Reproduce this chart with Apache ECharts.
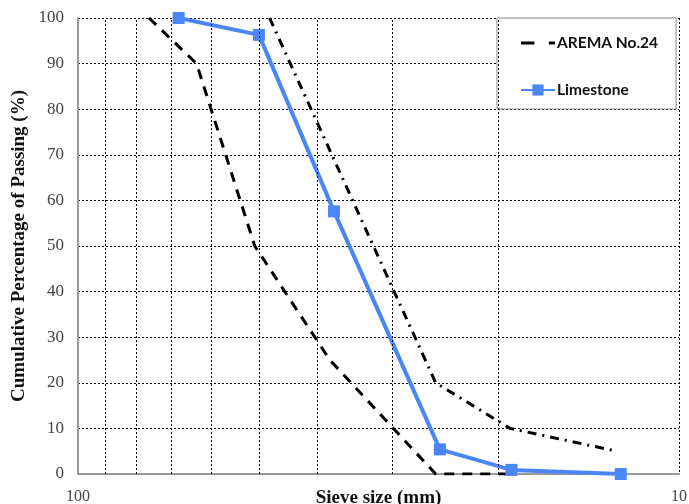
<!DOCTYPE html>
<html>
<head>
<meta charset="utf-8">
<script src="https://cdn.jsdelivr.net/npm/echarts@6/dist/echarts.min.js"></script>
<style>html,body{margin:0;padding:0;background:#fff}#c{width:689px;height:504px}</style>
</head>
<body>
<div id="c"></div>
<script>
// Sieve sizes (mm) and cumulative % passing
var aremaLowerSize = [76.2, 63.5, 50.8, 38.1, 25.4, 19];
var aremaLowerPass = [100, 90, 50, 25, 0, 0];
var aremaUpperSize = [48, 25.4, 19.1, 12.7];
var aremaUpperPass = [100, 20, 10, 5];
var limestoneSize = [68, 50, 37.5, 25, 19, 12.5];
var limestonePass = [100, 96.3, 57.6, 5.4, 0.9, 0];
var xGridValues = [20, 30, 40, 50, 60, 70, 80, 90];
var xTickLabels = [10, 100];
var yTicks = [0, 10, 20, 30, 40, 50, 60, 70, 80, 90, 100];

function zip(a, b) { return a.map(function (v, i) { return [v, b[i]]; }); }

var serif = '"Liberation Serif", "Times New Roman", serif';
var chart = echarts.init(document.getElementById('c'));
chart.setOption({
  animation: false,
  backgroundColor: '#fff',
  grid: { left: 78, right: 10, top: 18, bottom: 30, containLabel: false, outerBoundsMode: 'none' },
  legend: {
    data: [
      { name: 'AREMA No.24', icon: 'path://M0,0H13V3H0Z M27,0H33V3H27Z', itemStyle: { color: '#000', borderWidth: 0 } },
      { name: 'Limestone' }
    ],
    orient: 'vertical',
    left: 497, top: 18,
    backgroundColor: '#fff',
    borderColor: '#888', borderWidth: 1,
    padding: [17, 18, 11, 23],
    itemWidth: 34, itemHeight: 14, itemGap: 31,
    textStyle: { fontFamily: 'Lato, "Open Sans", sans-serif', fontWeight: 'bold', fontSize: 15.5, color: '#111', padding: [0, 0, 0, -3] }
  },
  xAxis: {
    type: 'log', logBase: 10, min: 10, max: 100, inverse: true,
    name: 'Sieve size (mm)', nameLocation: 'middle', nameGap: 15, nameMoveOverlap: false,
    nameTextStyle: { fontFamily: serif, fontWeight: 'bold', fontSize: 19, color: '#111' },
    axisLine: { show: true, lineStyle: { color: '#999', width: 2 } },
    axisTick: { show: false },
    axisLabel: {
      fontFamily: serif, fontSize: 16, color: '#444', margin: 15,
      formatter: function (v) { return xTickLabels.indexOf(Math.round(v)) >= 0 ? String(Math.round(v)) : ''; }
    },
    splitLine: { show: true, lineStyle: { color: '#000', width: 1, type: [2, 2] } }
  },
  yAxis: {
    type: 'value', min: yTicks[0], max: yTicks[yTicks.length - 1], interval: 10,
    name: 'Cumulative Percentage of Passing (%)', nameLocation: 'middle', nameGap: 49, nameMoveOverlap: false,
    nameTextStyle: { fontFamily: serif, fontWeight: 'bold', fontSize: 19, color: '#111' },
    axisLine: { show: true, lineStyle: { color: '#999', width: 2 } },
    axisTick: { show: false },
    axisLabel: { fontFamily: serif, fontSize: 17, color: '#444', margin: 14 },
    splitLine: { show: true, lineStyle: { color: '#000', width: 1, type: [2, 2] } }
  },
  series: [
    {
      name: 'AREMA No.24', type: 'line', data: zip(aremaLowerSize, aremaLowerPass),
      symbol: 'none', z: 3,
      lineStyle: { color: '#000', width: 3, type: [10, 8] },
      itemStyle: { color: '#000' }
    },
    {
      name: 'AREMA No.24', type: 'line', data: zip(aremaUpperSize, aremaUpperPass),
      symbol: 'none', z: 3,
      lineStyle: { color: '#000', width: 3, type: [9, 6, 2, 6] },
      itemStyle: { color: '#000' }
    },
    {
      name: 'Limestone', type: 'line', data: zip(limestoneSize, limestonePass),
      symbol: 'rect', symbolSize: 12, z: 4,
      lineStyle: { color: '#4A86F5', width: 4 },
      itemStyle: { color: '#4A86F5' }
    },
    {
      name: 'grid', type: 'line', data: [], z: 1, silent: true,
      markLine: {
        silent: true, symbol: 'none', label: { show: false },
        lineStyle: { color: '#000', width: 1, type: [2, 2] },
        data: xGridValues.map(function (v) { return { xAxis: v }; })
      }
    }
  ]
});
</script>
</body>
</html>
